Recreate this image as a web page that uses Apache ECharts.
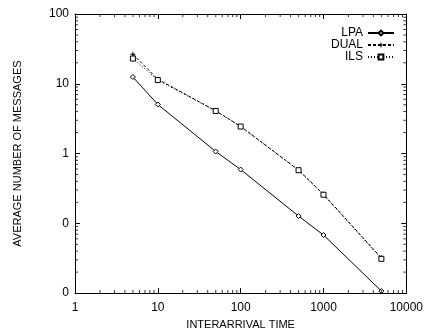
<!DOCTYPE html>
<html><head><meta charset="utf-8">
<script src="https://cdn.jsdelivr.net/npm/echarts@6/dist/echarts.min.js"></script>
<style>html,body{margin:0;padding:0;background:#fff}#c{width:426px;height:335px}</style>
</head><body><div id="c"></div>
<script>
const xValues = [5, 10, 50, 100, 500, 1000, 5000];
const lpa  = [12.5, 5.05, 1.07, 0.59, 0.127, 0.068, 0.0107];
const dual = [26.5, 11.6, 4.1, 2.45, 0.58, 0.26, 0.032];
const ils  = [23, 11.3, 4.08, 2.44, 0.577, 0.257, 0.031];
const seriesNames = ['LPA', 'DUAL', 'ILS'];
const xMinorTicks = [2,3,4,5,6,7,8,9,20,30,40,50,60,70,80,90,200,300,400,500,600,700,800,900,2000,3000,4000,5000,6000,7000,8000,9000];
const yMinorTicks = [0.02,0.03,0.04,0.05,0.06,0.07,0.08,0.09,0.2,0.3,0.4,0.5,0.6,0.7,0.8,0.9,2,3,4,5,6,7,8,9,20,30,40,50,60,70,80,90];

const font = 'Liberation Sans, Arial, sans-serif';
const X_MIN = 1, X_MAX = 10000, Y_MIN = 0.01, Y_MAX = 100;
const pair = (xs, ys) => xs.map((x, i) => [x, ys[i]]);
const plus = 'path://M4,0h2v10h-2z M0,4h10v2h-10z';
const vTick = 'path://M0,0h1v3h-1z';
const hTick = 'path://M0,0h3v1h-3z';

function tickScatter(data, sym, size, offset) {
  return {
    type: 'scatter', silent: true, z: 5, clip: false,
    data: data, symbol: sym, symbolSize: size, symbolOffset: offset,
    itemStyle: { color: '#000' }, emphasis: { disabled: true }
  };
}

const axisCommon = {
  type: 'log', logBase: 10,
  axisLine: { show: true, onZero: false, lineStyle: { color: '#000', width: 1 } },
  axisTick: { show: true, inside: true, length: 5, lineStyle: { color: '#000' } },
  splitLine: { show: false },
  minorTick: { show: false },
};

const chart = echarts.init(document.getElementById('c'));
chart.setOption({
  animation: false,
  backgroundColor: '#fff',
  grid: { left: 75, right: 17, top: 14, bottom: 36, containLabel: false },
  legend: {
    data: seriesNames, orient: 'vertical', right: 26, top: 22,
    align: 'right', itemWidth: 26, itemHeight: 6, itemGap: 0,
    textStyle: { fontFamily: font, fontSize: 12, color: '#000', padding: [0, 0, 0, 0] }
  },
  xAxis: [
    Object.assign({}, axisCommon, {
      min: X_MIN, max: X_MAX, position: 'bottom',
      name: 'INTERARRIVAL TIME', nameLocation: 'middle', nameGap: 18,
      nameTextStyle: { fontFamily: font, fontSize: 11, color: '#000' },
      axisLabel: { fontFamily: font, fontSize: 12, color: '#000', margin: 9,
        formatter: v => String(Math.round(v)) }
    }),
    Object.assign({}, axisCommon, {
      min: X_MIN, max: X_MAX, position: 'top', axisLabel: { show: false }
    })
  ],
  yAxis: [
    Object.assign({}, axisCommon, {
      min: Y_MIN, max: Y_MAX, position: 'left',
      name: 'AVERAGE NUMBER OF MESSAGES', nameLocation: 'middle', nameGap: 52,
      nameTextStyle: { fontFamily: font, fontSize: 11, color: '#000' },
      axisLabel: { fontFamily: font, fontSize: 12, color: '#000', margin: 6,
        formatter: v => (v >= 1 ? String(Math.round(v)) : '0') }
    }),
    Object.assign({}, axisCommon, {
      min: Y_MIN, max: Y_MAX, position: 'right', axisLabel: { show: false }
    })
  ],
  series: [
    { name: 'LPA', type: 'line', data: pair(xValues, lpa), symbol: 'diamond', symbolSize: 5,
      itemStyle: { color: '#fff', borderColor: '#000', borderWidth: 1 },
      lineStyle: { color: '#000', width: 1, type: 'solid' } },
    { name: 'DUAL', type: 'line', data: pair(xValues, dual), symbol: plus, symbolSize: 5,
      itemStyle: { color: '#000' },
      lineStyle: { color: '#000', width: 1, type: [3, 2] } },
    { name: 'ILS', type: 'line', data: pair(xValues, ils), symbol: 'rect', symbolSize: 5,
      itemStyle: { color: '#fff', borderColor: '#000', borderWidth: 1 },
      lineStyle: { color: '#000', width: 1, type: [1, 2] } },
    tickScatter(xMinorTicks.map(v => [v, Y_MIN]), vTick, [1, 3], [0, -1.5]),
    tickScatter(xMinorTicks.map(v => [v, Y_MAX]), vTick, [1, 3], [0, 1.5]),
    tickScatter(yMinorTicks.map(v => [X_MIN, v]), hTick, [3, 1], [1.5, 0]),
    tickScatter(yMinorTicks.map(v => [X_MAX, v]), hTick, [3, 1], [-1.5, 0])
  ]
});
</script></body></html>
